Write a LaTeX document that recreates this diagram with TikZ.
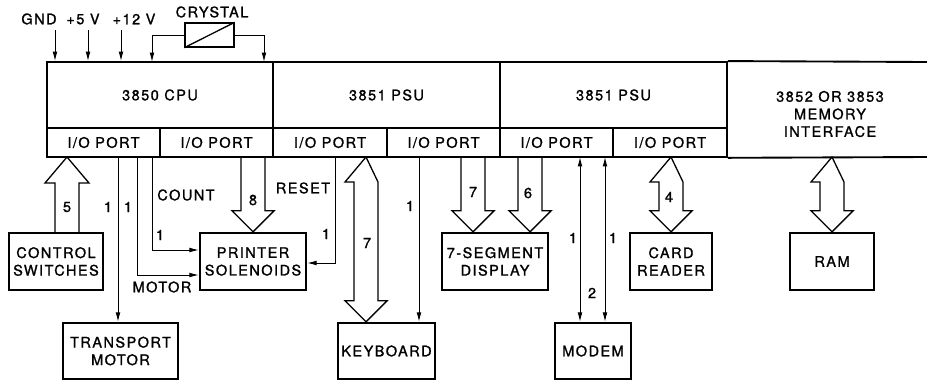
\documentclass[tikz,border=0pt]{standalone}
\usepackage{fontspec}
\setmainfont{TeX Gyre Heros}[LetterSpace=10,FakeBold=1.2]
\usetikzlibrary{arrows.meta,calc}

\tikzset{
  dev/.style={draw, line width=2pt, minimum width=#1, minimum height=1.71cm, inner sep=0pt, align=center},
  cell/.style={draw, line width=1.6pt, minimum width=#1, minimum height=1.98cm, inner sep=0pt},
  port/.style={draw, line width=1.4pt, minimum width=#1, minimum height=0.87cm, inner sep=0pt},
  sig/.style={line width=0.8pt, -{Latex[length=8pt,width=4pt]}},
  sigb/.style={line width=0.8pt, {Latex[length=8pt,width=4pt]}-{Latex[length=8pt,width=4pt]}},
  bus/.style={line width=1.1pt, line join=miter},
  lbl/.style={inner sep=0pt}
}

% fat bus arrows: tip at #2 (down), tip at #1 (up), tips at both ends
\newcommand\busdown[2]{\draw[bus] ($(#1)+(-12,0)$) -- ($(#2)+(-12,-21)$) -- ($(#2)+(-21,-21)$) -- (#2) -- ($(#2)+(21,-21)$) -- ($(#2)+(12,-21)$) -- ($(#1)+(12,0)$);}
\newcommand\busup[2]{\draw[bus] ($(#2)+(-12,0)$) -- ($(#1)+(-12,26)$) -- ($(#1)+(-22,26)$) -- (#1) -- ($(#1)+(22,26)$) -- ($(#1)+(12,26)$) -- ($(#2)+(12,0)$);}
\newcommand\busboth[2]{\draw[bus] (#1) -- ($(#1)+(-21,25)$) -- ($(#1)+(-12,25)$) -- ($(#2)+(-12,-21)$) -- ($(#2)+(-21,-21)$) -- (#2) -- ($(#2)+(21,-21)$) -- ($(#2)+(12,-21)$) -- ($(#1)+(12,25)$) -- cycle;}

\begin{document}
\begin{tikzpicture}[x=0.03cm, y=-0.03cm, font=\fontsize{12.4}{15}\selectfont]
  \useasboundingbox (0,0) rectangle (927,381);
  % processor block
  \node[cell=6.78cm] (cpu) at (160,95) {3850 CPU};
  \node[cell=6.81cm] (psua) at (386.5,95) {3851 PSU};
  \node[cell=6.81cm] (psub) at (613.5,95) {3851 PSU};
  \node[port=3.39cm] (p1) at (103.5,142.5) {I/O PORT};
  \node[port=3.39cm] (p2) at (216.5,142.5) {I/O PORT};
  \node[port=3.42cm] (p3) at (330,142.5) {I/O PORT};
  \node[port=3.39cm] (p4) at (443.5,142.5) {I/O PORT};
  \node[port=3.39cm] (p5) at (556.5,142.5) {I/O PORT};
  \node[port=3.42cm] (p6) at (670,142.5) {I/O PORT};
  \node[align=center] (mem) at (830,114) {3852 OR 3853\\MEMORY\\INTERFACE};
  \coordinate (rt) at (927,62);
  \coordinate (rb) at (927,157);
  \draw[line width=1.6pt] (psub.north east) -- (rt);
  \draw[line width=1.6pt] (p6.south east) -- (rb);
  % devices
  \node[dev=2.82cm] (cs) at (56,261.5) {CONTROL\\SWITCHES};
  \node[dev=3.18cm] (ps) at (253,261.5) {PRINTER\\SOLENOIDS};
  \node[dev=3.18cm] (sd) at (495,261.5) {7-SEGMENT\\DISPLAY};
  \node[dev=2.46cm] (cr) at (671,261.5) {CARD\\READER};
  \node[dev=2.52cm] (ram) at (832,261.5) {RAM};
  \node[dev=3.45cm, minimum height=1.68cm] (tm) at (120.5,351) {TRANSPORT\\MOTOR};
  \node[dev=2.91cm, minimum height=1.68cm] (kb) at (386.5,351) {KEYBOARD};
  \node[dev=2.28cm, minimum height=1.68cm] (md) at (593,351) {MODEM};
  % supply and crystal
  \node[lbl] (lgnd) at (39,19) {GND};
  \node[lbl] (l5v) at (83,19) {+5 V};
  \node[lbl] (l12v) at (134,19) {+12 V};
  \coordinate (gnd) at (55,30);
  \coordinate (v5) at (88,30);
  \coordinate (v12) at (121,30);
  \draw[sig] (gnd) -- (gnd |- cpu.north);
  \draw[sig] (v5) -- (v5 |- cpu.north);
  \draw[sig] (v12) -- (v12 |- cpu.north);
  \node[draw, line width=1.2pt, minimum width=1.47cm, minimum height=0.72cm] (xtal) at (209.5,35) {};
  \draw[line width=1.1pt] (xtal.south west) -- (xtal.north east);
  \node[lbl] (lxtal) at (212,12) {CRYSTAL};
  \coordinate (xa) at (152,62);
  \coordinate (xb) at (264,62);
  \draw[sig] (xtal.west) -| (xa);
  \draw[sig] (xtal.east) -| (xb);
  % single lines
  \coordinate (m1) at (118,157);
  \coordinate (m2) at (137,157);
  \coordinate (cnt) at (152,157);
  \coordinate (rst) at (335,157);
  \coordinate (k1) at (419,157);
  \coordinate (d1) at (580,157);
  \coordinate (d2) at (605,157);
  \draw[sig] (m1) -- (m1 |- tm.north);
  \draw[sig] (m2) |- ($(ps.west)+(0,13.5)$);
  \draw[sig] (cnt) |- ($(ps.west)+(0,-11.5)$);
  \draw[sig] (rst) |- ($(ps.east)+(0,1.5)$);
  \draw[sig] (k1) -- (k1 |- kb.north);
  \draw[sigb] (d1) -- (d1 |- md.north);
  \draw[sigb] (d2) -- (d2 |- md.north);
  % buses
  \coordinate (b5) at (67,157);
  \coordinate (b5e) at (b5 |- cs.north);
  \coordinate (b8) at (253,157);
  \coordinate (bk) at (366,157);
  \coordinate (bke) at (bk |- kb.north);
  \coordinate (bs7) at (473,157);
  \coordinate (bs7e) at (bs7 |- sd.north);
  \coordinate (bs6) at (530,157);
  \coordinate (bs6e) at (bs6 |- sd.north);
  \coordinate (b4) at (671,157);
  \coordinate (br) at (832,157);
  \busup{b5}{b5e}
  \busdown{b8}{ps.north}
  \busboth{bk}{bke}
  \busdown{bs7}{bs7e}
  \busdown{bs6}{bs6e}
  \busboth{b4}{cr.north}
  \busboth{br}{ram.north}
  % labels
  \node[lbl] (n5) at (67,207) {5};
  \node[lbl] (n1a) at (108,207) {1};
  \node[lbl] (n1b) at (128,207) {1};
  \node[lbl] (lcnt) at (186,195) {COUNT};
  \node[lbl] (n1c) at (160,235) {1};
  \node[lbl] (lmot) at (162,287) {MOTOR};
  \node[lbl] (n8) at (253,200) {8};
  \node[lbl] (lrst) at (303,188) {RESET};
  \node[lbl] (n1d) at (326,234) {1};
  \node[lbl] (n7k) at (367,243) {7};
  \node[lbl] (n1e) at (410,206) {1};
  \node[lbl] (n7s) at (473,192) {7};
  \node[lbl] (n6) at (528,193) {6};
  \node[lbl] (n1f) at (573,238) {1};
  \node[lbl] (n1g) at (613,238) {1};
  \node[lbl] (n2) at (592,293) {2};
  \node[lbl] (n4) at (669,197) {4};
\end{tikzpicture}
\end{document}
